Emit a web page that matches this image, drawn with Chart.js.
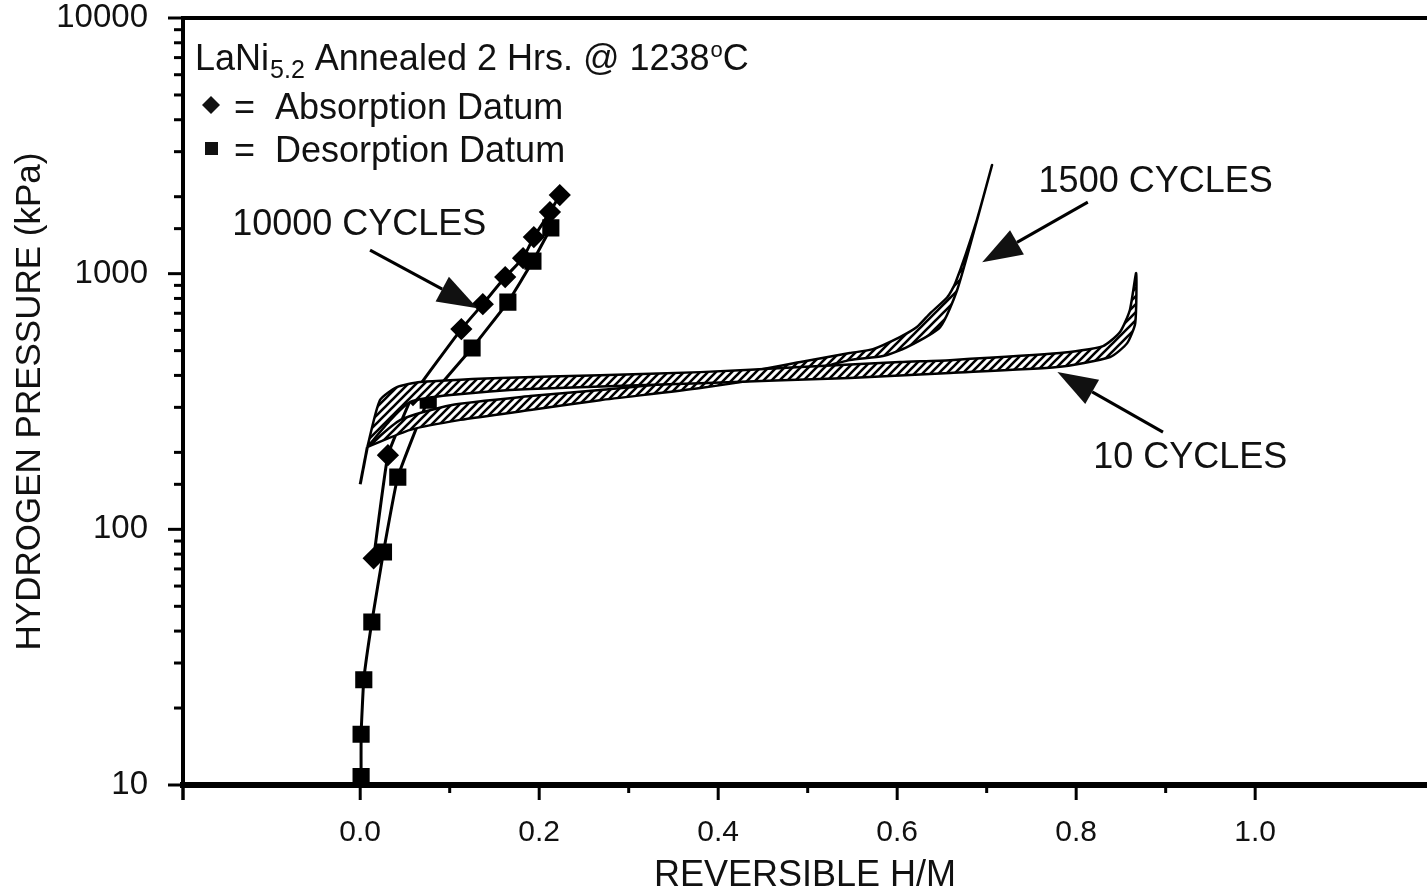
<!DOCTYPE html>
<html><head><meta charset="utf-8">
<script src="https://cdn.jsdelivr.net/npm/chart.js@4.4.0/dist/chart.umd.min.js"></script>
<style>html,body{margin:0;padding:0;background:#fff;overflow:hidden;width:1427px;height:891px}</style>
</head><body>
<canvas id="c" width="1440" height="891"></canvas>
<script>
const FONT = '"Liberation Sans", Arial, Helvetica, sans-serif';

// Axis ticks
const xTickValues = [0, 0.2, 0.4, 0.6, 0.8, 1.0];
const xTickLabels = ['0.0', '0.2', '0.4', '0.6', '0.8', '1.0'];
const yTickValues = [10, 100, 1000, 10000];
const yTickLabels = ['10', '100', '1000', '10000'];

// 10000 cycles, measured data
const absorptionX = [0.015, 0.031, 0.059, 0.113, 0.137, 0.162, 0.182, 0.194, 0.212, 0.223];
const absorptionP = [77, 195, 335, 607, 760, 970, 1150, 1390, 1741, 2030];
const desorptionX = [0.001, 0.001, 0.004, 0.013, 0.026, 0.042, 0.076, 0.125, 0.165, 0.193, 0.213];
const desorptionP = [10.8, 15.8, 25.8, 43.4, 81.5, 160, 320, 512, 774, 1120, 1510];

// common start of the hysteresis loops
const startX = [0.0, 0.008];
const startP = [150, 210];

// 10 cycles loop (upper edge then lower edge, right to left)
const c10TopX = [0.008, 0.022, 0.041, 0.067, 0.156, 0.268, 0.380, 0.492, 0.603, 0.659, 0.782, 0.830, 0.849, 0.860, 0.867];
const c10TopP = [210, 320, 360, 377, 391, 401, 412, 431, 451, 459, 489, 521, 591, 721, 1005];
const c10BotX = [0.866, 0.857, 0.838, 0.779, 0.659, 0.547, 0.380, 0.190, 0.101, 0.056, 0.034, 0.008];
const c10BotP = [641, 535, 472, 431, 409, 391, 373, 354, 335, 315, 268, 210];

// 1500 cycles loop
const c1500TopX = [0.008, 0.045, 0.101, 0.190, 0.268, 0.380, 0.492, 0.547, 0.573, 0.603, 0.622, 0.637, 0.656, 0.665, 0.689, 0.706];
const c1500TopP = [210, 268, 306, 332, 351, 384, 451, 489, 507, 565, 618, 701, 809, 919, 1621, 2660];
const c1500BotX = [0.689, 0.667, 0.648, 0.611, 0.584, 0.547, 0.492, 0.380, 0.268, 0.190, 0.112, 0.056, 0.008];
const c1500BotP = [1607, 863, 618, 516, 476, 459, 412, 357, 320, 293, 268, 245, 210];

// annotations (data coordinates)
const annText  = ['10000 CYCLES', '1500 CYCLES', '10 CYCLES'];
const annTextX = [-0.143, 0.758, 0.819];
const annTextP = [1549, 2281, 190];
const annTailX = [0.011, 0.813, 0.897];
const annTailP = [1236, 1905, 240];
const annTipX  = [0.131, 0.695, 0.779];
const annTipP  = [733, 1109, 412];

function pts(xs, ps) { return xs.map((x, i) => ({x: x, y: ps[i]})); }
function loop(tx, tp, bx, bp) {
  const a = pts(tx, tp).concat(pts(bx, bp));
  a.push({x: tx[0], y: tp[0]});
  return a;
}

const canvas = document.getElementById('c');
const mainCtx = canvas.getContext('2d');
function hatch() {
  const s = 8;
  const c = document.createElement('canvas');
  c.width = s; c.height = s;
  const g = c.getContext('2d');
  g.fillStyle = '#fff'; g.fillRect(0, 0, s, s);
  g.strokeStyle = '#000'; g.lineWidth = 2.6;
  g.beginPath();
  g.moveTo(-1, s + 1); g.lineTo(s + 1, -1);
  g.moveTo(-1, 1); g.lineTo(1, -1);
  g.moveTo(s - 1, s + 1); g.lineTo(s + 1, s - 1);
  g.stroke();
  return mainCtx.createPattern(c, 'repeat');
}
const pattern = hatch();

const overlay = {
  id: 'overlay',
  afterDraw(chart) {
    const ctx = chart.ctx, xs = chart.scales.x, ys = chart.scales.y, a = chart.chartArea;
    ctx.save();
    ctx.strokeStyle = '#000'; ctx.fillStyle = '#111';
    // top frame
    ctx.lineWidth = 4;
    ctx.beginPath(); ctx.moveTo(a.left - 2, a.top); ctx.lineTo(a.right, a.top); ctx.stroke();
    // x ticks
    ctx.lineWidth = 3;
    xs.ticks.forEach(t => {
      const v = t.value, k = Math.round(v * 10);
      const minor = Math.abs(v * 10 - k) < 1e-6 && (k % 2 !== 0);
      const px = xs.getPixelForValue(v);
      if (px > a.right - 2) return;
      ctx.beginPath(); ctx.moveTo(px, a.bottom); ctx.lineTo(px, a.bottom + (minor ? 8 : 15)); ctx.stroke();
    });
    ctx.beginPath(); ctx.moveTo(a.left, a.bottom); ctx.lineTo(a.left, a.bottom + 15); ctx.stroke();
    // y ticks
    ys.ticks.forEach(t => {
      const v = t.value, lg = Math.log10(v);
      const major = Math.abs(lg - Math.round(lg)) < 1e-6;
      const py = ys.getPixelForValue(v);
      ctx.beginPath(); ctx.moveTo(a.left, py); ctx.lineTo(a.left - (major ? 15 : 9), py); ctx.stroke();
    });
    // legend block
    ctx.textBaseline = 'alphabetic'; ctx.textAlign = 'left';
    let x = a.left + 12, y = a.top + 52;
    ctx.font = '36px ' + FONT;
    ctx.fillText('LaNi', x, y); x += ctx.measureText('LaNi').width + 1;
    ctx.font = '25px ' + FONT;
    ctx.fillText('5.2', x, y + 8); x += ctx.measureText('5.2').width;
    ctx.font = '36px ' + FONT;
    const mid = ' Annealed 2 Hrs. @ 1238';
    ctx.fillText(mid, x, y); x += ctx.measureText(mid).width + 1;
    ctx.font = '22px ' + FONT;
    ctx.fillText('o', x, y - 13); x += ctx.measureText('o').width;
    ctx.font = '36px ' + FONT;
    ctx.fillText('C', x, y);
    // legend markers
    const lx = a.left + 28;
    ctx.beginPath();
    const dy = a.top + 87;
    ctx.moveTo(lx, dy - 9); ctx.lineTo(lx + 9, dy); ctx.lineTo(lx, dy + 9); ctx.lineTo(lx - 9, dy); ctx.closePath(); ctx.fill();
    const sy = a.top + 130;
    ctx.fillRect(lx - 6, sy - 6, 13, 13);
    ctx.font = '36px ' + FONT;
    ctx.fillText('=', a.left + 51, a.top + 101);
    ctx.fillText('=', a.left + 51, a.top + 144);
    ctx.fillText('Absorption Datum', a.left + 92, a.top + 101);
    ctx.fillText('Desorption Datum', a.left + 92, a.top + 144);
    // annotations
    ctx.textBaseline = 'middle';
    ctx.lineWidth = 3;
    for (let i = 0; i < annText.length; i++) {
      ctx.fillText(annText[i], xs.getPixelForValue(annTextX[i]), ys.getPixelForValue(annTextP[i]));
      const x1 = xs.getPixelForValue(annTailX[i]), y1 = ys.getPixelForValue(annTailP[i]);
      const x2 = xs.getPixelForValue(annTipX[i]), y2 = ys.getPixelForValue(annTipP[i]);
      const ang = Math.atan2(y2 - y1, x2 - x1), L = 40, W = 14;
      const bx = x2 - L * Math.cos(ang), by = y2 - L * Math.sin(ang);
      ctx.beginPath(); ctx.moveTo(x1, y1); ctx.lineTo(bx, by); ctx.stroke();
      ctx.beginPath(); ctx.moveTo(x2, y2);
      ctx.lineTo(bx + W * Math.sin(ang), by - W * Math.cos(ang));
      ctx.lineTo(bx - W * Math.sin(ang), by + W * Math.cos(ang));
      ctx.closePath(); ctx.fill();
    }
    ctx.restore();
  }
};

const bandStyle = {showLine: true, pointRadius: 0, borderColor: '#000', borderWidth: 2.5,
  backgroundColor: pattern, fill: 'shape', tension: 0.2};

new Chart(canvas, {
  type: 'scatter',
  data: {datasets: [
    Object.assign({label: '10 cycles', data: loop(c10TopX, c10TopP, c10BotX, c10BotP)}, bandStyle),
    Object.assign({label: '1500 cycles', data: loop(c1500TopX, c1500TopP, c1500BotX, c1500BotP)}, bandStyle),
    {label: 'start', data: pts(startX, startP), showLine: true, pointRadius: 0, borderColor: '#000', borderWidth: 3},
    {label: 'Absorption', data: pts(absorptionX, absorptionP), showLine: true, borderColor: '#000', borderWidth: 3,
      pointStyle: 'rectRot', pointRadius: 9, pointBackgroundColor: '#000', pointBorderColor: '#000', tension: 0.1},
    {label: 'Desorption', data: pts(desorptionX, desorptionP), showLine: true, borderColor: '#000', borderWidth: 3,
      pointStyle: 'rect', pointRadius: 10, pointBackgroundColor: '#000', pointBorderColor: '#000', tension: 0.1}
  ]},
  options: {
    responsive: false, animation: false,
    layout: {padding: {top: 18, right: 0, left: 0, bottom: 0}},
    plugins: {legend: {display: false}, tooltip: {enabled: false}},
    scales: {
      x: {
        type: 'linear', min: -0.198, max: 1.192,
        grid: {display: false}, border: {color: '#000', width: 6},
        ticks: {stepSize: 0.1, autoSkip: false, maxRotation: 0, padding: 22, color: '#111',
          font: {family: FONT, size: 30},
          callback: v => { const i = xTickValues.findIndex(t => Math.abs(t - v) < 1e-6); return i >= 0 ? xTickLabels[i] : ''; }},
        title: {display: true, text: 'REVERSIBLE H/M', color: '#111', padding: {top: 0, bottom: 0},
          font: {family: FONT, size: 36, lineHeight: '30px'}},
        afterFit: s => { s.height = 106; s.paddingLeft = 0; s.paddingRight = 0; }
      },
      y: {
        type: 'logarithmic', min: 10, max: 10000,
        grid: {display: false}, border: {color: '#000', width: 4},
        ticks: {autoSkip: false, padding: 27, color: '#111', font: {family: FONT, size: 33},
          callback: v => { const i = yTickValues.findIndex(t => Math.abs(t - v) < 1e-6); return i >= 0 ? yTickLabels[i] : ''; }},
        title: {display: true, text: 'HYDROGEN PRESSURE (kPa)', color: '#111', padding: {top: 10, bottom: 0},
          font: {family: FONT, size: 35, lineHeight: '40px'}},
        afterFit: s => { s.width = 183; s.paddingTop = 0; s.paddingBottom = 0; }
      }
    }
  },
  plugins: [overlay]
});
</script>
</body></html>
